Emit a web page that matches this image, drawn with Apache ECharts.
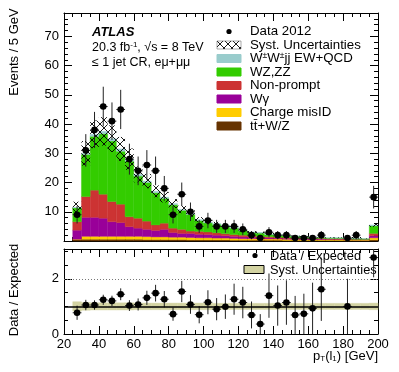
<!DOCTYPE html>
<html>
<head>
<meta charset="utf-8">
<script src="https://cdn.jsdelivr.net/npm/echarts@6/dist/echarts.min.js"></script>
<style>
  html, body { margin: 0; padding: 0; background: #fff; }
  #chart { width: 399px; height: 372px; }
</style>
</head>
<body>
<div id="chart"></div>
<script>
// pT(l1) bins, lower edges in GeV (5 GeV wide, last one holds the overflow)
const binLow = [25, 30, 35, 40, 45, 50, 55, 60, 65, 70, 75, 80, 85, 90, 95, 100, 105, 110,
  115, 120, 125, 130, 135, 140, 145, 150, 155, 160, 165, 170, 175, 180, 185, 190, 195]
const binWidth = 5

// expected events per bin, one array per background (stacked bottom to top)
const ttV = [0.5, 0.6, 0.6, 0.6, 0.6, 0.6, 0.6, 0.6, 0.5, 0.5, 0.5, 0.5, 0.5, 0.4, 0.4, 0.4, 0.4, 0.4,
  0.3, 0.3, 0.3, 0.3, 0.3, 0.3, 0.2, 0.2, 0.2, 0.2, 0.2, 0.2, 0.2, 0.2, 0.2, 0.2, 0.4]
const chargeMisID = [0.1, 1.0, 1.0, 1.0, 1.0, 1.0, 1.0, 1.0, 1.0, 0.9, 0.9, 0.8, 0.8, 0.8, 0.7, 0.7, 0.6, 0.6,
  0.6, 0.5, 0.5, 0.5, 0.4, 0.4, 0.4, 0.4, 0.3, 0.3, 0.3, 0.3, 0.3, 0.2, 0.2, 0.2, 0.7]
const wGamma = [3.1, 6.5, 6.5, 6.2, 5.0, 4.7, 3.3, 2.8, 2.5, 2.2, 2.6, 1.6, 1.3, 1.4, 1.2, 1.1, 1.0, 0.8,
  0.7, 0.6, 0.5, 0.4, 0.4, 0.3, 0.3, 0.3, 0.3, 0.2, 0.2, 0.1, 0.1, 0.1, 0.1, 0.1, 0.7]
const nonPrompt = [2.9, 7.1, 9.3, 8.2, 6.9, 6.3, 3.4, 3.4, 2.8, 1.9, 2.1, 1.5, 1.4, 0.8, 1.0, 0.9, 0.8, 0.7,
  0.6, 0.6, 0.5, 0.4, 0.4, 0.3, 0.3, 0.2, 0.2, 0.2, 0.2, 0.2, 0.2, 0.2, 0.1, 0.1, 0.8]
const wzZZ = [4.7, 14.4, 18.4, 20.7, 20.7, 18.1, 19.0, 14.4, 13.2, 11.0, 8.5, 8.0, 6.5, 5.7, 3.7, 3.1, 2.9, 2.7,
  2.2, 1.6, 1.1, 1.1, 0.7, 0.7, 0.6, 0.5, 0.4, 0.3, 0.3, 0.2, 0.2, 0.2, 0.2, 0.1, 2.6]
const wwjj = [0.2, 0.4, 0.7, 0.8, 0.8, 0.8, 0.7, 0.6, 0.5, 0.5, 0.4, 0.4, 0.3, 0.3, 0.3, 0.3, 0.2, 0.2,
  0.2, 0.2, 0.2, 0.2, 0.2, 0.1, 0.1, 0.1, 0.1, 0.1, 0.1, 0.1, 0.1, 0.1, 0.1, 0.1, 0.3]

// relative systematic uncertainty of the expectation
const systRel = [0.17, 0.14, 0.13, 0.13, 0.13, 0.13, 0.13, 0.12, 0.12, 0.12, 0.12, 0.12, 0.12, 0.12, 0.12, 0.12, 0.11, 0.11,
  0.11, 0.11, 0.11, 0.11, 0.11, 0.11, 0.11, 0.11, 0.11, 0.11, 0.11, 0.11, 0.11, 0.11, 0.11, 0.11, 0.12]

// observed data 2012
const dataCounts = [9, 31, 38, 46, 41, 45, 28, 24, 26, 24, 18, 9, 16, 10, 5, 7, 5, 5,
  5, 4, 2, 1, 3, 2, 2, 1, 1, 1, 2, 0, 0, 1, 2, 0, 15]
// data / expected
const ratio = [0.77, 1.05, 1.05, 1.24, 1.2, 1.44, 1.03, 1.07, 1.31, 1.48, 1.26, 0.72, 1.54, 1.07, 0.7, 1.15, 0.9, 0.99,
  1.26, 1.14, 0.69, 0.36, 1.39, 1.03, 1.14, 0.69, 0.73, 0.93, 1.62, null, null, 1.0, null, null, 2.77]

const xTicks = [20, 40, 60, 80, 100, 120, 140, 160, 180, 200]

const FONT = 'Liberation Sans'

const layers = [
  { name: 'tt̄+W/Z', color: '#663300', values: ttV },
  { name: 'Charge misID', color: '#ffcc00', values: chargeMisID },
  { name: 'Wγ', color: '#990099', values: wGamma },
  { name: 'Non-prompt', color: '#cc3333', values: nonPrompt },
  { name: 'WZ,ZZ', color: '#33cc00', values: wzZZ },
  { name: 'W±W±jj EW+QCD', color: '#99cccc', values: wwjj }
]

const makeHatch = () => {
  const c = document.createElement('canvas')
  c.width = 8
  c.height = 8
  const g = c.getContext('2d')
  g.strokeStyle = '#000'
  g.lineWidth = 0.9
  g.beginPath()
  g.moveTo(0, 0)
  g.lineTo(8, 8)
  g.moveTo(8, 0)
  g.lineTo(0, 8)
  g.stroke()
  return c
}
const hatch = { image: makeHatch(), repeat: 'repeat' }

const rectItem = (params, api) => {
  const p0 = api.coord([api.value(0), api.value(3)])
  const p1 = api.coord([api.value(1), api.value(2)])
  const st = api.style()
  return {
    type: 'rect',
    shape: { x: p0[0], y: p0[1], width: p1[0] - p0[0], height: p1[1] - p0[1] },
    style: { fill: st.fill, stroke: st.fill, lineWidth: 0.4 }
  }
}

const hatchItem = (params, api) => {
  const p0 = api.coord([api.value(0), api.value(3)])
  const p1 = api.coord([api.value(1), api.value(2)])
  return {
    type: 'rect',
    shape: { x: p0[0], y: p0[1], width: p1[0] - p0[0], height: p1[1] - p0[1] },
    style: { fill: hatch }
  }
}

const pointItem = (params, api) => {
  const x = api.value(0)
  const y = api.value(1)
  const e = api.value(2)
  const c = api.coord([x, y])
  const top = api.coord([x, y + e])
  const bot = api.coord([x, Math.max(y - e, 0)])
  const l = api.coord([x - binWidth / 2, y])
  const r = api.coord([x + binWidth / 2, y])
  return {
    type: 'group',
    children: [
      { type: 'line', shape: { x1: c[0], y1: top[1], x2: c[0], y2: bot[1] }, style: { stroke: '#222', lineWidth: 1 } },
      { type: 'line', shape: { x1: l[0], y1: c[1], x2: r[0], y2: c[1] }, style: { stroke: '#222', lineWidth: 1 } },
      { type: 'circle', shape: { cx: c[0], cy: c[1], r: 3.3 }, style: { fill: '#000' } }
    ]
  }
}

// stacked histograms
const base = binLow.map(() => 0)
const stackSeries = layers.map(l => {
  const data = binLow.map((lo, i) => {
    const item = [lo, lo + binWidth, base[i], base[i] + l.values[i]]
    base[i] += l.values[i]
    return item
  })
  return {
    type: 'custom', name: l.name, xAxisIndex: 0, yAxisIndex: 0,
    renderItem: rectItem, itemStyle: { color: l.color }, data, silent: true
  }
})
const total = base.slice()

const axisCommon = {
  type: 'value',
  axisLine: { show: true, onZero: false, lineStyle: { color: '#000', width: 1 } },
  axisTick: { show: true, inside: true, length: 8, lineStyle: { color: '#000' } },
  minorTick: { show: true, length: 4, lineStyle: { color: '#000' } },
  splitLine: { show: false },
  axisLabel: { show: false }
}
const labelStyle = { color: '#000', fontSize: 13, fontFamily: FONT }

const option = {
  animation: false,
  backgroundColor: '#fff',
  grid: [
    { left: 64, right: 21, top: 13, height: 228 },
    { left: 64, right: 21, top: 249, height: 85 }
  ],
  xAxis: [
    { ...axisCommon, gridIndex: 0, min: 20, max: 200, interval: 20, minorTick: { ...axisCommon.minorTick, splitNumber: 4 } },
    { ...axisCommon, gridIndex: 0, position: 'top', min: 20, max: 200, interval: 20, minorTick: { ...axisCommon.minorTick, splitNumber: 4 } },
    {
      ...axisCommon, gridIndex: 1, min: 20, max: 200, interval: 20, minorTick: { ...axisCommon.minorTick, splitNumber: 4 },
      axisLabel: { show: true, margin: 4, ...labelStyle, customValues: xTicks }
    },
    { ...axisCommon, gridIndex: 1, position: 'top', min: 20, max: 200, interval: 20, minorTick: { ...axisCommon.minorTick, splitNumber: 4 } }
  ],
  yAxis: [
    {
      ...axisCommon, gridIndex: 0, min: 0, max: 78, interval: 10, minorTick: { ...axisCommon.minorTick, splitNumber: 5 },
      axisLabel: { show: true, margin: 5, ...labelStyle, showMaxLabel: false, formatter: v => (v > 0 && v < 78 ? v : '') }
    },
    { ...axisCommon, gridIndex: 0, position: 'right', min: 0, max: 78, interval: 10, minorTick: { ...axisCommon.minorTick, splitNumber: 5 } },
    {
      ...axisCommon, gridIndex: 1, min: 0, max: 3.08, interval: 2, minorTick: { ...axisCommon.minorTick, splitNumber: 4 },
      axisLabel: { show: true, margin: 5, ...labelStyle, showMaxLabel: false, formatter: v => (v === 0 || v === 2 ? v : '') }
    },
    { ...axisCommon, gridIndex: 1, position: 'right', min: 0, max: 3.08, interval: 2, minorTick: { ...axisCommon.minorTick, splitNumber: 4 } }
  ],
  series: [
    ...stackSeries,
    {
      type: 'custom', name: 'Syst. Uncertainties', xAxisIndex: 0, yAxisIndex: 0, renderItem: hatchItem, silent: true,
      data: binLow.map((lo, i) => [lo, lo + binWidth, total[i] * (1 - systRel[i]), total[i] * (1 + systRel[i])])
    },
    {
      type: 'custom', name: 'Data 2012', xAxisIndex: 0, yAxisIndex: 0, renderItem: pointItem, silent: true,
      data: binLow.map((lo, i) => [lo + binWidth / 2, dataCounts[i], Math.sqrt(dataCounts[i])]).filter(d => d[1] > 0)
    },
    {
      type: 'custom', name: 'ratio band', xAxisIndex: 2, yAxisIndex: 2, renderItem: rectItem, silent: true,
      itemStyle: { color: '#d3d3a2' },
      data: binLow.map((lo, i) => [lo, lo + binWidth, 1 - systRel[i], 1 + systRel[i]]),
      markLine: {
        silent: true, symbol: 'none', label: { show: false },
        data: [
          { yAxis: 1, lineStyle: { color: '#000', width: 1.5, type: 'solid' } },
          { yAxis: 2, lineStyle: { color: '#777', width: 1, type: [1, 2] } }
        ]
      }
    },
    {
      type: 'custom', name: 'Data / Expected', xAxisIndex: 2, yAxisIndex: 2, renderItem: pointItem, silent: true, clip: true,
      data: binLow.map((lo, i) => [lo + binWidth / 2, ratio[i], ratio[i] / Math.sqrt(dataCounts[i] || 1)]).filter(d => d[1] !== null)
    }
  ]
}

// legend (upper panel)
const legendRows = [
  { name: 'Data 2012', kind: 'dot' },
  { name: 'Syst. Uncertainties', kind: 'hatch' },
  ...layers.slice().reverse().map(l => ({ name: l.name, kind: 'box', color: l.color }))
]
const legendGraphics = []
legendRows.forEach((row, k) => {
  const cy = 31.5 + k * 13.5
  if (row.kind === 'dot') {
    legendGraphics.push({ type: 'circle', shape: { cx: 229, cy, r: 2.6 }, style: { fill: '#000' } })
  } else if (row.kind === 'hatch') {
    legendGraphics.push({ type: 'rect', shape: { x: 217, y: cy - 4, width: 24, height: 8 }, style: { fill: hatch, stroke: '#555', lineWidth: 0.5 } })
  } else {
    legendGraphics.push({ type: 'rect', shape: { x: 217, y: cy - 4, width: 24, height: 8 }, style: { fill: row.color, stroke: row.color } })
  }
  let text = row.name
  let rich = {}
  if (row.name.startsWith('W±')) {
    text = 'W{s|±}W{s|±}jj EW+QCD'
    rich = { s: { fontSize: 8.5, verticalAlign: 'top', padding: [0, 0, 6, 0], fontFamily: FONT, fill: '#000' } }
  }
  legendGraphics.push({
    type: 'text', x: 250, y: cy,
    style: { text, rich, fill: '#000', fontSize: 13.3, fontFamily: FONT, verticalAlign: 'middle' }
  })
})

option.graphic = [
  ...legendGraphics,
  { type: 'text', x: 92, y: 32, style: { text: 'ATLAS', fill: '#000', fontSize: 13, fontWeight: 'bold', fontStyle: 'italic', fontFamily: FONT, verticalAlign: 'middle' } },
  {
    type: 'text', x: 92, y: 48,
    style: {
      text: '20.3 fb{s|-1}, √s = 8 TeV', fill: '#000', fontSize: 12.5, fontFamily: FONT, verticalAlign: 'middle',
      rich: { s: { fontSize: 8, verticalAlign: 'top', padding: [0, 0, 6, 0], fontFamily: FONT, fill: '#000' } }
    }
  },
  { type: 'text', x: 92, y: 63, style: { text: '≤ 1 jet CR, eμ+μμ', fill: '#000', fontSize: 12.5, fontFamily: FONT, verticalAlign: 'middle' } },
  { type: 'text', x: 14, y: 52, rotation: Math.PI / 2, style: { text: 'Events / 5 GeV', fill: '#000', fontSize: 13, fontFamily: FONT, align: 'center', verticalAlign: 'middle' } },
  { type: 'text', x: 14, y: 290, rotation: Math.PI / 2, style: { text: 'Data / Expected', fill: '#000', fontSize: 13, fontFamily: FONT, align: 'center', verticalAlign: 'middle' } },
  {
    type: 'text', x: 378, y: 356,
    style: {
      text: 'p{s|T}(l{s|1}) [GeV]', fill: '#000', fontSize: 13, fontFamily: FONT, align: 'right', verticalAlign: 'middle',
      rich: { s: { fontSize: 8, verticalAlign: 'bottom', padding: [6, 0, 0, 0], fontFamily: FONT, fill: '#000' } }
    }
  },
  // legend (ratio panel)
  { type: 'circle', shape: { cx: 255, cy: 255.5, r: 2.6 }, style: { fill: '#000' } },
  { type: 'text', x: 270, y: 256, style: { text: 'Data / Expected', fill: '#000', fontSize: 12.8, fontFamily: FONT, verticalAlign: 'middle' } },
  { type: 'rect', shape: { x: 244, y: 265.5, width: 20, height: 8 }, style: { fill: '#d3d3a2', stroke: '#000', lineWidth: 1 } },
  { type: 'text', x: 270, y: 270, style: { text: 'Syst. Uncertainties', fill: '#000', fontSize: 12.8, fontFamily: FONT, verticalAlign: 'middle' } }
]

const chart = echarts.init(document.getElementById('chart'))
chart.setOption(option)
window.addEventListener('resize', () => chart.resize())
</script>
</body>
</html>
